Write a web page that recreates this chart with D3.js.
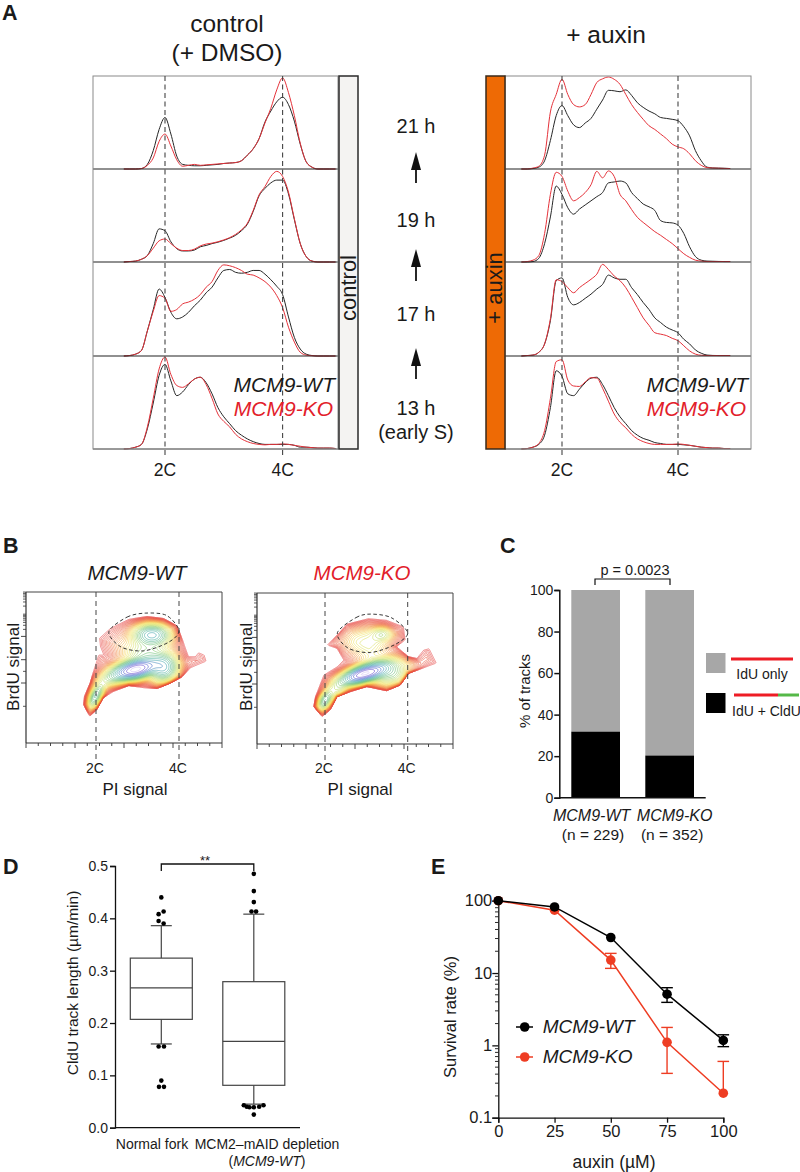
<!DOCTYPE html>
<html><head><meta charset="utf-8">
<script src="https://cdn.jsdelivr.net/npm/d3@7/dist/d3.min.js"></script>
<style>html,body{margin:0;padding:0;background:#fff}svg{display:block}text{font-family:"Liberation Sans",Arial,sans-serif;fill:#1a1a1a}</style>
</head><body><svg id="c" width="800" height="1172"></svg>
<script>
// ---- Panel A data: DNA content grid (in C units) and normalised counts per row
const dnaGrid=[1.3,1.4,1.5,1.6,1.7,1.8,1.9,2.0,2.1,2.2,2.3,2.4,2.5,2.6,2.7,2.8,2.9,3.0,3.1,3.2,3.3,3.4,3.5,3.6,3.7,3.8,3.9,4.0,4.1,4.2,4.3,4.4,4.5,4.6,4.7,4.8,4.9];
const ctl21WT=[0,0,0,.005,.05,.2,.43,.56,.38,.14,.05,.04,.035,.035,.04,.045,.05,.06,.065,.07,.09,.15,.22,.33,.51,.63,.73,.78,.70,.52,.27,.08,.02,0,0,0,0];
const ctl21KO=[0,0,0,.005,.04,.12,.3,.38,.25,.10,.03,.04,.05,.04,.045,.05,.055,.06,.065,.07,.09,.15,.22,.33,.5,.66,.86,.99,.83,.58,.28,.08,.02,0,0,0,0];
const ctl19WT=[0,.005,.01,.03,.07,.2,.36,.34,.22,.145,.12,.12,.13,.165,.18,.2,.215,.235,.26,.29,.34,.41,.55,.72,.8,.86,.89,.89,.74,.46,.2,.06,.01,0,0,0,0];
const ctl19KO=[0,.005,.01,.03,.07,.15,.23,.25,.2,.15,.125,.125,.14,.175,.195,.205,.22,.24,.265,.3,.35,.42,.56,.73,.82,.93,.985,.93,.76,.47,.2,.06,.01,0,0,0,0];
const ctl17WT=[0,.005,.02,.06,.27,.5,.72,.63,.47,.4,.42,.47,.54,.6,.68,.74,.84,.92,.93,.9,.89,.9,.92,.92,.88,.82,.75,.66,.42,.2,.075,.02,.005,0,0,0,0];
const ctl17KO=[0,.005,.02,.06,.27,.48,.65,.62,.48,.5,.56,.58,.61,.66,.74,.8,.92,.98,.97,.95,.92,.88,.87,.84,.8,.74,.65,.52,.31,.15,.04,.01,.003,0,0,0,0];
const ctl13WT=[0,.005,.02,.05,.22,.5,.8,.92,.74,.58,.62,.7,.76,.78,.72,.6,.45,.35,.275,.2,.15,.11,.08,.06,.05,.05,.05,.05,.05,.04,.02,.02,.015,.01,.01,.01,.005];
const ctl13KO=[0,.005,.02,.05,.24,.55,.87,1.0,.81,.69,.67,.71,.76,.78,.7,.55,.38,.3,.24,.16,.11,.08,.06,.05,.045,.05,.05,.055,.05,.04,.03,.02,.015,.01,.01,.01,.005];
const aux21WT=[0,0,.005,.02,.09,.31,.58,.69,.58,.48,.45,.5,.55,.65,.75,.855,.85,.84,.86,.8,.72,.67,.63,.6,.56,.55,.54,.525,.46,.36,.2,.09,.02,.012,.01,.008,.005];
const aux21KO=[0,0,.01,.03,.15,.62,.81,.975,.81,.7,.675,.7,.81,.94,.98,1.0,.975,.92,.81,.7,.615,.54,.47,.43,.38,.33,.27,.24,.22,.165,.09,.04,.015,.01,.008,.006,.005];
const aux19WT=[0,0,.005,.04,.2,.49,.825,.735,.59,.52,.575,.62,.665,.71,.755,.86,.87,.88,.86,.755,.69,.63,.6,.56,.45,.43,.425,.4,.31,.165,.06,.02,.01,.008,.006,.005,.005];
const aux19KO=[0,.005,.02,.07,.31,.735,.975,.93,.77,.665,.7,.755,.84,.985,.915,.99,.93,.735,.665,.57,.485,.43,.38,.33,.29,.245,.2,.145,.09,.05,.02,.01,.005,.005,.005,.005,.005];
const aux17WT=[0,.005,.01,.04,.13,.38,.81,.84,.63,.55,.575,.62,.665,.72,.77,.87,.84,.825,.825,.735,.66,.575,.5,.41,.36,.31,.28,.25,.18,.13,.065,.03,.01,.006,.005,.005,.005];
const aux17KO=[0,.005,.01,.04,.13,.4,.82,.8,.735,.68,.735,.78,.825,.88,.985,.93,.86,.81,.735,.63,.52,.41,.33,.25,.235,.22,.19,.165,.11,.055,.02,.008,.005,.005,.005,.005,.005];
const aux13WT=[0,.005,.02,.05,.15,.45,.85,.79,.6,.58,.65,.72,.77,.78,.7,.58,.45,.35,.275,.2,.15,.115,.095,.07,.06,.05,.05,.05,.045,.04,.03,.02,.015,.01,.01,.005,.005];
const aux13KO=[0,.005,.02,.06,.2,.55,.95,.97,.75,.685,.68,.73,.775,.77,.66,.52,.38,.29,.23,.16,.11,.08,.06,.05,.05,.05,.05,.055,.05,.04,.03,.02,.015,.01,.01,.005,.005];
const timeLabels=["21 h","19 h","17 h","13 h"];
// ---- Panel B data: outer contour [PI, logBrdU] and density peaks [PI, logBrdU, sdAlong, sdAcross, angleDeg, amplitude]
const outlineWT=[[1.70,2.07],[1.85,1.57],[2.02,1.86],[2.17,2.36],[2.43,2.64],[2.79,2.89],[3.15,2.79],[3.47,2.76],[3.79,3.0],[4.07,3.26],[4.27,3.64],[4.66,3.93],[4.61,4.21],[4.47,4.31],[4.39,4.14],[4.23,4.14],[4.10,4.79],[3.95,5.46],[3.63,5.77],[3.23,5.86],[2.79,5.74],[2.35,5.36],[2.08,4.93],[2.10,4.57],[2.18,4.21],[2.06,4.21],[1.96,3.64],[1.86,3.0],[1.72,2.43]];
const outlineKO=[[1.73,2.03],[1.93,1.6],[2.13,1.89],[2.29,2.46],[2.61,2.67],[3.01,2.89],[3.49,2.71],[3.82,2.96],[4.02,3.46],[4.70,3.89],[4.52,4.53],[4.38,4.46],[4.22,4.10],[4.02,4.17],[3.73,4.6],[3.94,4.89],[3.9,5.46],[3.49,5.74],[3.05,5.81],[2.53,5.57],[2.33,5.17],[2.05,4.67],[2.29,4.53],[2.45,4.03],[2.29,3.74],[1.97,3.39],[1.77,2.46]];
const peaksWT=[[2.0,2.43,7,3.5,-65,.35],[2.95,3.57,12,5,-15,1],[3.63,3.64,8,8,0,.4],[3.35,5.07,10,6,0,.42],[3.23,4.2,10,8,0,.12],[2.43,3.29,12,5,-25,.12]];
const peaksKO=[[2.0,2.29,6,3.5,-60,.3],[2.95,3.43,13,4.5,-18,1],[3.57,3.5,12,8,0,.2],[3.37,5.14,6,4,0,.11],[3.01,4.86,14,8,0,.06],[2.29,2.71,8,5,-50,.12]];
const gateWT=[[2.31,5.2],[2.75,5.83],[3.2,6.0],[3.7,5.9],[4.0,5.25],[3.75,4.75],[3.15,4.38],[2.6,4.55]];
const gateKO=[[2.3,5.2],[2.75,5.85],[3.1,6.0],[3.6,5.85],[4.0,5.2],[3.7,4.7],[3.1,4.35],[2.55,4.55]];
const contourStops=[0,.22,.4,.5,.62,.72,.84,.92,.98,1];
const contourColors=["#e23030","#ea5a34","#f2a12e","#f4e04e","#c4dc56","#5cb85c","#2fa3a0","#2a50c8","#5a2fc8","#c9b6f2"];
// ---- Panel C data
const trackCats=["MCM9-WT","MCM9-KO"];
const trackN=["(n = 229)","(n = 352)"];
const idu_cldu=[31.8,20.3];
const iduOnly=[68.2,79.7];
// ---- Panel D data
const boxCats=[0,1];
const boxQ1=[.207,.081],boxMed=[.267,.165],boxQ3=[.324,.279],whiskLo=[.16,.045],whiskHi=[.386,.408];
const outVals=[[.44,.413,.408,.395,.39,.155,.155,.09,.078,.078],[.485,.452,.431,.413,.413,.043,.04,.039,.039,.04,.043,.025]];
const outJit=[[0,.025,-.029,-.029,.025,-.029,.029,0,-.025,.029],[0,0,0,-.025,.025,-.108,-.076,-.047,0,.058,.105,0]];
// ---- Panel E data
const doses=[0,25,50,75,100];
const survWT=[100,82,31,5.1,1.17],survKO=[100,74,15.1,1.1,.218];
const errWTlo=[100,82,31,3.93,.96],errWThi=[100,82,31,6.27,1.4];
const errKOlo=[100,74,11.6,.41,.218],errKOhi=[100,74,18.7,1.77,.6];

const svg=d3.select("#c");
const T=(x,y,s,o={})=>{const t=svg.append("text").attr("x",x).attr("y",y).text(s).attr("font-size",o.size||14).attr("text-anchor",o.anchor||"middle");
  if(o.italic)t.attr("font-style","italic");if(o.bold)t.attr("font-weight","bold");if(o.color)t.style("fill",o.color);if(o.rot)t.attr("transform",`rotate(${o.rot} ${x} ${y})`);return t;};
const L=(g,x1,y1,x2,y2,c,w,d)=>{const l=g.append("line").attr("x1",x1).attr("y1",y1).attr("x2",x2).attr("y2",y2).attr("stroke",c).attr("stroke-width",w);if(d)l.attr("stroke-dasharray",d);return l;};
[["A",2,20],["B",3,553],["C",500,553],["D",3,874],["E",431,874]].forEach(d=>T(d[1],d[2],d[0],{size:21.5,bold:true,anchor:"start"}));

// ---------- Panel A
const rowEdges=[76,169,262,356,449];
const WTc="#262626",KOc="#e5323a";
function histPanel(id,x0,x1,c2,c4,sets){
  const x=d3.scaleLinear().domain([2,4]).range([c2,c4]);
  const g=svg.append("g");
  const cp=id+"clip";
  svg.append("clipPath").attr("id",cp).append("rect").attr("x",x0).attr("y",70).attr("width",x1-x0).attr("height",385);
  g.attr("clip-path",`url(#${cp})`);
  sets.forEach((pair,r)=>{
    const y=d3.scaleLinear().domain([0,1]).range([rowEdges[r+1],rowEdges[r]+1]);
    const line=d3.line().x((d,i)=>x(dnaGrid[i])).y(d=>y(d)).curve(d3.curveMonotoneX);
    [[pair[0],WTc],[pair[1],KOc]].forEach(s=>g.append("path").attr("d",line(s[0])).attr("fill","none").attr("stroke",s[1]).attr("stroke-width",1));
  });
  rowEdges.slice(1,4).forEach(e=>L(svg,x0,e,x1,e,"#222",1.2));
  L(svg,x0,rowEdges[4],x1,rowEdges[4],"#555",1);
  svg.append("rect").attr("x",x0).attr("y",76).attr("width",x1-x0).attr("height",373).attr("fill","none").attr("stroke","#8a8a8a").attr("stroke-width",1);
  [2,4].forEach(v=>{L(svg,x(v),76,x(v),458,"#444",1.1,"5,3.5");T(x(v),476,v+"C",{size:17.5});});
  const rx=x1-3;
  T(rx,392,"MCM9-WT",{size:21,italic:true,anchor:"end"});
  T(rx-2,416,"MCM9-KO",{size:21,italic:true,anchor:"end",color:"#e2202a"});
}
histPanel("ctl",93,338,165,282.6,[[ctl21WT,ctl21KO],[ctl19WT,ctl19KO],[ctl17WT,ctl17KO],[ctl13WT,ctl13KO]]);
histPanel("aux",505,751,562,678,[[aux21WT,aux21KO],[aux19WT,aux19KO],[aux17WT,aux17KO],[aux13WT,aux13KO]]);
svg.append("rect").attr("x",339).attr("y",76).attr("width",19).attr("height",373).attr("fill","#f4f3f2").attr("stroke","#2a2a2a").attr("stroke-width",1.5);
svg.append("rect").attr("x",486).attr("y",76).attr("width",19).attr("height",373).attr("fill","#ee6a05").attr("stroke","#3a2a1a").attr("stroke-width",1.5);
T(356,288,"control",{size:22,rot:-90});
T(502,288,"+ auxin",{size:22,rot:-90});
T(227,32,"control",{size:24.5});T(227,61,"(+ DMSO)",{size:24.5});T(606,43,"+ auxin",{size:24.5});
timeLabels.forEach((s,i)=>T(416,[133,227,321,415][i],s,{size:20}));
T(416,439,"(early S)",{size:20});
[[183,152],[281,249],[379,348]].forEach(a=>{
  L(svg,416,a[0],416,a[1]+10,"#111",1.8);
  svg.append("path").attr("d",d3.line()([[416,a[1]],[411,a[1]+18],[421,a[1]+18]])+"Z").attr("fill","#111");
});

// ---------- Panel B
function contourPanel(id,fx0,fx1,fy0,fy1,c2,c4,y3,outline,peaks,gate,title,titleColor,labelX,titleX){
  const x=d3.scaleLinear().domain([2,4]).range([c2,c4]);
  const y=d3.scaleLinear().domain([3,4]).range([y3,y3-23.3]);
  const nx=196,ny=151;
  const gx=d3.scaleLinear().domain([0,nx]).range([fx0,fx1]);
  const gy=d3.scaleLinear().domain([0,ny]).range([fy0,fy1]);
  const poly=outline.map(p=>[x(p[0]),y(p[1])]);
  const nL=34,lo=.0035,hi=.96,cap=.075;
  const vals=new Float64Array(nx*ny);
  for(let j=0;j<ny;j++)for(let i=0;i<nx;i++){
    const X=gx(i+.5),Y=gy(j+.5);
    let dm=1e9;
    poly.forEach((a,k)=>{const b=poly[(k+1)%poly.length];const vx=b[0]-a[0],vy=b[1]-a[1];
      const t=Math.max(0,Math.min(1,((X-a[0])*vx+(Y-a[1])*vy)/(vx*vx+vy*vy)));
      dm=Math.min(dm,Math.hypot(X-a[0]-t*vx,Y-a[1]-t*vy));});
    const inside=d3.polygonContains(poly,[X,Y]);
    const d=inside?dm:-dm;
    let s=1/(1/(lo*Math.exp(d/7))+1/cap);
    if(inside){
      const mask=1-Math.exp(-d/4);let pk=0;
      peaks.forEach(b=>{const a=b[4]*Math.PI/180,px=X-x(b[0]),py=Y-y(b[1]);
        const u=px*Math.cos(a)+py*Math.sin(a),v=-px*Math.sin(a)+py*Math.cos(a);
        pk+=b[5]*Math.exp(-.5*(u*u/(b[2]*b[2])+v*v/(b[3]*b[3])));});
      s+=pk*mask;
    }
    vals[j*nx+i]=s;
  }
  const levels=d3.range(nL).map(i=>lo*Math.pow(hi/lo,i/(nL-1)));
  const col=d3.scaleLinear().domain(contourStops).range(contourColors).interpolate(d3.interpolateRgb);
  const cs=d3.contours().size([nx,ny]).thresholds(levels).smooth(true)(vals);
  const proj=d3.geoTransform({point(a,b){this.stream.point(gx(a),gy(b));}});
  const path=d3.geoPath(proj);
  const g=svg.append("g");
  g.selectAll("path").data(cs).join("path").attr("d",path).attr("fill","none").attr("stroke-width",.55).attr("stroke",(d,i)=>col(i/(nL-1)));
  svg.append("path").attr("d",d3.line().x(d=>x(d[0])).y(d=>y(d[1])).curve(d3.curveCardinalClosed.tension(.1))(gate)).attr("fill","none").attr("stroke","#222").attr("stroke-width",.9).attr("stroke-dasharray","3.5,2.5");
  L(svg,fx0,fy0,fx1,fy0,"#444",1);L(svg,fx1,fy0,fx1,fy1,"#444",1);
  L(svg,fx0,fy0,fx0,fy1,"#333",1.2);L(svg,fx0,fy1,fx1,fy1,"#333",1.2);
  [2,4].forEach(v=>{L(svg,x(v),fy0,x(v),fy1+20,"#444",1,"5,4");T(x(v)-1,773,v+"C",{size:14});});
  d3.range(0,17).forEach(i=>{const tx=fx0+(fx1-fx0)*i/16;L(svg,tx,fy1,tx,fy1+(i%4==0?5:3),"#333",.9);});
  [3,4,5].forEach(v=>L(svg,fx0-5,y(v),fx0,y(v),"#333",.9));
  [5,6].forEach(dec=>d3.range(2,10).forEach(k=>{const v=dec+Math.log10(k);if(y(v)>fy0)L(svg,fx0-3,y(v),fx0,y(v),"#333",.8);}));
  [2,3.5].forEach(v=>L(svg,fx0-3,y(v),fx0,y(v),"#333",.8));
  T(titleX,795,"PI signal",{size:17});
  T(labelX,667,"BrdU signal",{size:17,rot:-90});
  T(titleX+2,580,title,{size:20.5,italic:true,color:titleColor});
}
contourPanel("w",26,222,592,743,96,179,683,outlineWT,peaksWT,gateWT,"MCM9-WT",null,19,135);
contourPanel("k",257,453,593,744,325,407.7,684,outlineKO,peaksKO,gateKO,"MCM9-KO","#e2202a",252,360);

// ---------- Panel C
{
  const y=d3.scaleLinear().domain([0,100]).range([797.7,590]);
  const x=d3.scaleBand().domain(trackCats).range([571.3,694]).paddingInner(.342);
  trackCats.forEach((c,i)=>{
    svg.append("rect").attr("x",x(c)).attr("width",x.bandwidth()).attr("y",y(100)).attr("height",y(idu_cldu[i])-y(100)).attr("fill","#a7a7a7");
    svg.append("rect").attr("x",x(c)).attr("width",x.bandwidth()).attr("y",y(idu_cldu[i])).attr("height",y(0)-y(idu_cldu[i])).attr("fill","#000");
    T(x(c)+x.bandwidth()/2+[-4,5][i],821,c,{size:16,italic:true});
    T(x(c)+x.bandwidth()/2+[-2.6,2.5][i],840,trackN[i],{size:15.5});
  });
  const ax=svg.append("g").attr("transform","translate(559.3,0)").call(d3.axisLeft(y).tickValues(d3.range(0,101,20)).tickSize(5).tickPadding(1));
  ax.selectAll("text").attr("font-size",14).style("font-family",'"Liberation Sans"');
  ax.selectAll("line,path").attr("stroke","#111").attr("stroke-width",1.5);
  L(svg,559.3,797.7,705.7,797.7,"#111",1.5);
  T(530,691,"% of tracks",{size:15,rot:-90});
  svg.append("path").attr("d","M595,585V579H670V585").attr("fill","none").attr("stroke","#111").attr("stroke-width",1.2);
  T(635,575,"p = 0.0023",{size:14.5});
  svg.append("rect").attr("x",706).attr("y",653).attr("width",19.5).attr("height",20).attr("fill","#a7a7a7");
  svg.append("rect").attr("x",706).attr("y",693).attr("width",19.5).attr("height",20).attr("fill","#000");
  L(svg,731,659,793,659,"#ee1c25",3);
  L(svg,734,695,778,695,"#ee1c25",3);L(svg,778,695,799,695,"#55b848",3);
  T(762,679,"IdU only",{size:14});
  T(732,716,"IdU + CldU",{size:14,anchor:"start"});
}

// ---------- Panel D
{
  const y=d3.scaleLinear().domain([0,.5]).range([1127.7,866]);
  const x=d3.scaleLinear().domain([0,1]).range([161.3,253.8]);
  const bw=31,cap=10.5,c="#444";
  boxCats.forEach((k,i)=>{
    const cx=x(k);
    L(svg,cx,y(whiskLo[i]),cx,y(whiskHi[i]),c,1.2);
    L(svg,cx-cap,y(whiskLo[i]),cx+cap,y(whiskLo[i]),c,1.2);
    L(svg,cx-cap,y(whiskHi[i]),cx+cap,y(whiskHi[i]),c,1.2);
    svg.append("rect").attr("x",cx-bw).attr("width",2*bw).attr("y",y(boxQ3[i])).attr("height",y(boxQ1[i])-y(boxQ3[i])).attr("fill","#fff").attr("stroke",c).attr("stroke-width",1.2);
    L(svg,cx-bw,y(boxMed[i]),cx+bw,y(boxMed[i]),c,1.2);
    svg.selectAll(null).data(outVals[i]).join("circle").attr("cx",(d,j)=>x(k+outJit[i][j])).attr("cy",d=>y(d)).attr("r",2.3).attr("fill","#000");
  });
  const ax=svg.append("g").attr("transform","translate(115,0)").call(d3.axisLeft(y).tickValues(d3.range(0,.51,.1)).tickFormat(d3.format(".1f")).tickSize(5).tickPadding(2));
  ax.selectAll("text").attr("font-size",14).style("font-family",'"Liberation Sans"');
  ax.selectAll("line,path").attr("stroke","#111").attr("stroke-width",1.3);
  L(svg,115,1127.7,300,1127.7,"#111",1.3);
  T(78,983,"CldU track length (µm/min)",{size:15.5,rot:-90});
  svg.append("path").attr("d",`M${x(0)},871V864H${x(1)}V871`).attr("fill","none").attr("stroke","#111").attr("stroke-width",1.3);
  T(205,865,"**",{size:13});
  T(152,1149,"Normal fork",{size:14});
  T(267,1149,"MCM2–mAID depletion",{size:14});
  const t=T(267,1166,"(",{size:14});t.append("tspan").attr("font-style","italic").text("MCM9-WT");t.append("tspan").text(")");
}

// ---------- Panel E
{
  const x=d3.scaleLinear().domain([0,100]).range([498.3,723.3]);
  const y=d3.scaleLog().domain([.1,100]).range([1117.7,900.7]);
  const ax=svg.append("g").attr("transform","translate(498.3,0)").call(d3.axisLeft(y).tickValues([.1,1,10,100]).tickFormat(d3.format("~g")).tickSize(6).tickPadding(0));
  ax.selectAll("text").attr("font-size",16.5).style("font-family",'"Liberation Sans"');
  ax.selectAll("line,path").attr("stroke","#111").attr("stroke-width",1.3);
  [.1,1,10].forEach(d=>d3.range(2,10).forEach(k=>L(svg,495,y(d*k),498.3,y(d*k),"#111",.9)));
  const bx=svg.append("g").attr("transform","translate(0,1117.7)").call(d3.axisBottom(x).tickValues(doses).tickSize(5).tickPadding(3));
  bx.selectAll("text").attr("font-size",16.5).style("font-family",'"Liberation Sans"');
  bx.selectAll("line,path").attr("stroke","#111").attr("stroke-width",1.3);
  const line=d3.line().x((d,i)=>x(doses[i])).y(d=>y(d));
  const ser=[[survKO,errKOlo,errKOhi,"#ee3d23"],[survWT,errWTlo,errWThi,"#000"]];
  ser.forEach(s=>{
    svg.append("path").attr("d",line(s[0])).attr("fill","none").attr("stroke",s[3]).attr("stroke-width",1.5);
    doses.forEach((d,i)=>{
      if(s[1][i]===s[2][i])return;
      L(svg,x(d),y(s[1][i]),x(d),y(s[2][i]),s[3],1.4);
      if(s[1][i]!==s[0][i])L(svg,x(d)-5.8,y(s[1][i]),x(d)+5.8,y(s[1][i]),s[3],1.4);
      L(svg,x(d)-5.8,y(s[2][i]),x(d)+5.8,y(s[2][i]),s[3],1.4);
    });
    svg.selectAll(null).data(s[0]).join("circle").attr("cx",(d,i)=>x(doses[i])).attr("cy",d=>y(d)).attr("r",4.8).attr("fill",s[3]);
  });
  T(456,1017,"Survival rate (%)",{size:16.5,rot:-90});
  T(614,1168,"auxin (µM)",{size:17.5});
  [[1027,"#000","MCM9-WT"],[1057,"#ee3d23","MCM9-KO"]].forEach(l=>{
    L(svg,516,l[0],533,l[0],l[1],1.5);
    svg.append("circle").attr("cx",524.7).attr("cy",l[0]).attr("r",4.8).attr("fill",l[1]);
    T(542.7,l[0]+6,l[2],{size:19,italic:true,anchor:"start"});
  });
}
</script></body></html>
